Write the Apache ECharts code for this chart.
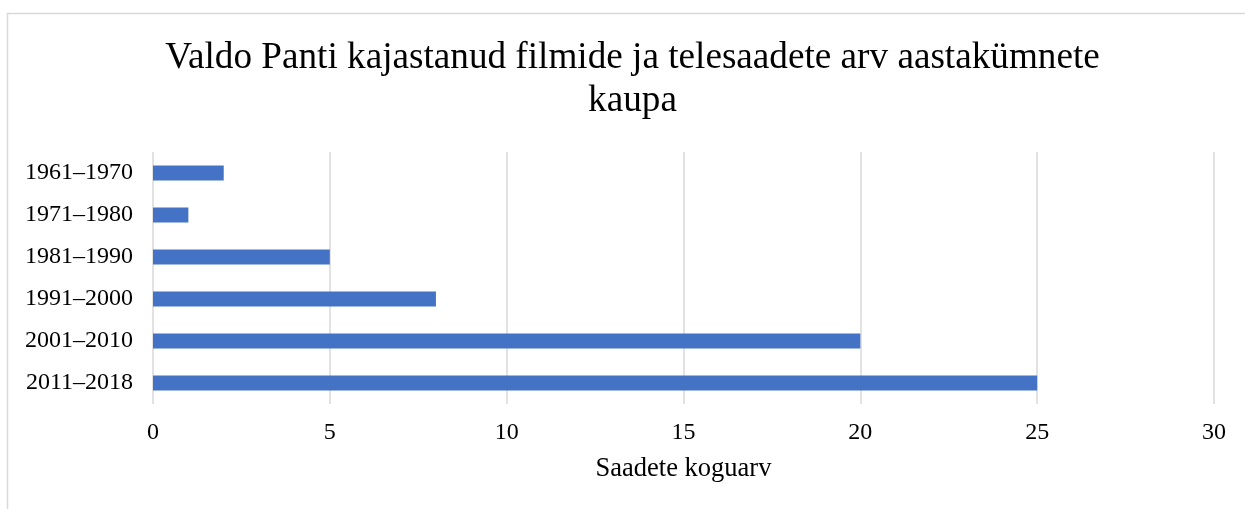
<!DOCTYPE html>
<html>
<head>
<meta charset="utf-8">
<script src="https://cdn.jsdelivr.net/npm/echarts@6/dist/echarts.min.js"></script>
<style>
html,body{margin:0;padding:0;background:#fff;}
#c{width:1245px;height:509px;}
</style>
</head>
<body>
<div id="c"></div>
<script>
const categories = ['1961–1970','1971–1980','1981–1990','1991–2000','2001–2010','2011–2018'];
const values = [2, 1, 5, 8, 20, 25];
const titleText = 'Valdo Panti kajastanud filmide ja telesaadete arv aastakümnete\nkaupa';
const xAxisName = 'Saadete koguarv';

const serif = '"Liberation Serif", "DejaVu Serif", serif';
const chart = echarts.init(document.getElementById('c'), null, {renderer: 'canvas'});
chart.setOption({
  animation: false,
  backgroundColor: '#fff',
  graphic: [{
    type: 'rect',
    shape: {x: 7.5, y: 13.5, width: 1260, height: 520},
    style: {fill: 'none', stroke: '#d9d9d9', lineWidth: 1.5},
    silent: true
  }],
  title: {
    text: titleText,
    left: 632.5,
    top: 37,
    padding: 0,
    textAlign: 'center',
    textStyle: {fontFamily: serif, fontSize: 37.2, fontWeight: 'normal', color: '#000', lineHeight: 43}
  },
  grid: {left: 153, right: 31, top: 152, bottom: 105, containLabel: false},
  xAxis: {
    type: 'value', min: 0, max: 30, interval: 5,
    axisLine: {show: false}, axisTick: {show: false},
    splitLine: {show: true, lineStyle: {color: '#d9d9d9', width: 1.5}},
    axisLabel: {fontFamily: serif, fontSize: 24, color: '#000', margin: 17},
    name: xAxisName, nameLocation: 'middle', nameGap: 52,
    nameTextStyle: {fontFamily: serif, fontSize: 26.5, color: '#000'}
  },
  yAxis: {
    type: 'category', data: categories, inverse: true,
    axisLine: {show: false}, axisTick: {show: false},
    axisLabel: {fontFamily: serif, fontSize: 24, color: '#000', margin: 20}
  },
  series: [{
    type: 'bar', data: values, barWidth: 15,
    itemStyle: {color: '#4472C4'}
  }]
});
</script>
</body>
</html>
